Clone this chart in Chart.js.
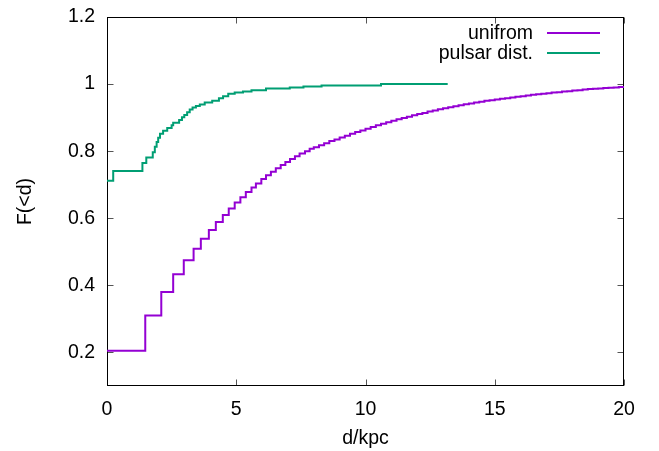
<!DOCTYPE html>
<html>
<head>
<meta charset="utf-8">
<script src="https://cdn.jsdelivr.net/npm/chart.js@4/dist/chart.umd.min.js"></script>
<style>
  html, body { margin: 0; padding: 0; background: #ffffff; }
  #c { display: block; }
</style>
</head>
<body>
<canvas id="c" width="659" height="451"></canvas>
<script>
// ---- data ----
const uniformX = [0, 1.48, 2.10, 2.56, 2.97, 3.35, 3.63, 3.94, 4.21, 4.48, 4.71, 4.94, 5.16, 5.37, 5.59, 5.76, 5.97, 6.15, 6.34, 6.53, 6.72, 6.90, 7.08, 7.27, 7.45, 7.66, 7.84,
  8.0, 8.2, 8.4, 8.6, 8.8, 9.0, 9.2, 9.4, 9.6, 9.8, 10.0, 10.2, 10.4, 10.6, 10.8, 11.0, 11.2, 11.4, 11.6, 11.8,
  12.0, 12.2, 12.4, 12.6, 12.8, 13.0, 13.2, 13.4, 13.6, 13.8, 14.0, 14.2, 14.4, 14.6, 14.8, 15.0, 15.2, 15.4, 15.6, 15.8,
  16.0, 16.2, 16.4, 16.6, 16.8, 17.0, 17.2, 17.4, 17.6, 17.8, 18.0, 18.2, 18.4, 18.6, 18.8, 19.0, 19.2, 19.4, 19.6, 19.8, 20.0];
const uniformY = [0.205, 0.31, 0.38, 0.433, 0.475, 0.509, 0.539, 0.565, 0.589, 0.61, 0.629, 0.647, 0.663, 0.678, 0.692, 0.704, 0.717, 0.728, 0.739, 0.749, 0.759, 0.768, 0.777, 0.785, 0.793, 0.80, 0.807,
  0.812, 0.818, 0.824, 0.830, 0.835, 0.841, 0.846, 0.852, 0.857, 0.862, 0.867, 0.872, 0.877, 0.882, 0.886, 0.891, 0.895, 0.899, 0.903, 0.907,
  0.911, 0.914, 0.918, 0.921, 0.925, 0.928, 0.931, 0.934, 0.937, 0.940, 0.942, 0.945, 0.947, 0.950, 0.952, 0.954, 0.956, 0.958, 0.960, 0.962,
  0.964, 0.966, 0.968, 0.970, 0.971, 0.973, 0.975, 0.976, 0.978, 0.979, 0.981, 0.982, 0.984, 0.985, 0.986, 0.987, 0.988, 0.989, 0.990, 0.991, 0.992];

const pulsarX = [0, 0.24, 1.37, 1.52, 1.77, 1.85, 1.92, 1.98, 2.05, 2.17, 2.33, 2.50, 2.56, 2.79, 2.90, 2.99, 3.10, 3.20, 3.31, 3.44, 3.59, 3.78, 4.07, 4.33, 4.49, 4.69, 4.94, 5.26, 5.59, 6.15, 7.07, 7.6, 8.3, 10.6, 13.18];
const pulsarY = [0.712, 0.741, 0.765, 0.781, 0.797, 0.813, 0.827, 0.840, 0.852, 0.861, 0.869, 0.877, 0.885, 0.893, 0.901, 0.908, 0.916, 0.924, 0.930, 0.935, 0.939, 0.945, 0.950, 0.958, 0.964, 0.971, 0.975, 0.978, 0.982, 0.987, 0.990, 0.993, 0.996, 1.0, 1.0];

const seriesLabels = ['unifrom', 'pulsar dist.'];
const seriesColors = ['#9400d3', '#009e73'];
const xTickValues = [0, 5, 10, 15, 20];
const yTickValues = [0.2, 0.4, 0.6, 0.8, 1.0, 1.2];
const xTitle = 'd/kpc';
const yTitle = 'F(<d)';

const FONT = { family: '"Liberation Sans", Arial, sans-serif', size: 19.5 };

function toPoints(xs, ys) { return xs.map((x, i) => ({ x: x, y: ys[i] })); }

// frame (border + inward mirrored ticks) drawn using the chart's own scales
const framePlugin = {
  id: 'frame',
  beforeDatasetsDraw(chart) {
    const ctx = chart.ctx, a = chart.chartArea;
    const xs = chart.scales.x, ys = chart.scales.y;
    const L = Math.round(a.left) + 0.5, R = Math.round(a.right) - 0.5;
    const T = Math.round(a.top) + 0.5, B = Math.round(a.bottom) - 0.5;
    ctx.save();
    ctx.lineWidth = 1;
    ctx.strokeStyle = '#555555';
    const tl = 6;
    ctx.beginPath();
    xTickValues.forEach(v => {
      const px = Math.round(xs.getPixelForValue(v)) + 0.5;
      ctx.moveTo(px, B); ctx.lineTo(px, B - tl);
      ctx.moveTo(px, T); ctx.lineTo(px, T + tl);
    });
    yTickValues.forEach(v => {
      const py = Math.round(ys.getPixelForValue(v)) + 0.5;
      ctx.moveTo(L, py); ctx.lineTo(L + tl, py);
      ctx.moveTo(R, py); ctx.lineTo(R - tl, py);
    });
    ctx.stroke();
    ctx.strokeStyle = '#000000';
    ctx.strokeRect(L, T, R - L, B - T);
    ctx.restore();
  }
};

// gnuplot-style key: right-aligned text, line sample on the right
const keyPlugin = {
  id: 'gkey',
  afterDatasetsDraw(chart) {
    const ctx = chart.ctx, a = chart.chartArea;
    ctx.save();
    ctx.font = FONT.size + 'px ' + FONT.family;
    ctx.textAlign = 'right';
    ctx.textBaseline = 'middle';
    chart.data.datasets.forEach((ds, i) => {
      const y = a.top + 16 + i * 19.5;
      ctx.fillStyle = '#000000';
      ctx.fillText(ds.label, a.right - 91, y + 1);
      ctx.strokeStyle = ds.borderColor;
      ctx.lineWidth = 2;
      ctx.beginPath();
      ctx.moveTo(a.right - 77, Math.round(y));
      ctx.lineTo(a.right - 24, Math.round(y));
      ctx.stroke();
    });
    ctx.restore();
  }
};

new Chart(document.getElementById('c'), {
  type: 'line',
  data: {
    datasets: [
      { label: seriesLabels[0], data: toPoints(uniformX, uniformY), borderColor: seriesColors[0], borderWidth: 2, pointRadius: 0, stepped: 'before', fill: false, tension: 0 },
      { label: seriesLabels[1], data: toPoints(pulsarX, pulsarY), borderColor: seriesColors[1], borderWidth: 2, pointRadius: 0, stepped: 'before', fill: false, tension: 0 }
    ]
  },
  options: {
    responsive: false,
    animation: false,
    devicePixelRatio: 1,
    layout: { padding: { left: 0, right: 35, top: 17, bottom: 0 } },
    plugins: { legend: { display: false }, tooltip: { enabled: false } },
    scales: {
      x: {
        type: 'linear',
        min: 0, max: 20,
        afterFit(s) { s.height = 65; s.paddingLeft = 0; s.paddingRight = 0; },
        afterBuildTicks(s) { s.ticks = xTickValues.map(v => ({ value: v })); },
        grid: { display: false, drawTicks: false },
        border: { display: false },
        ticks: { color: '#000000', font: FONT, padding: 12, maxRotation: 0, autoSkip: false, callback: v => String(v) },
        title: { display: true, text: xTitle, color: '#000000', font: FONT, padding: { top: 0, bottom: 1 } }
      },
      y: {
        type: 'linear',
        min: 0.1, max: 1.2,
        afterFit(s) { s.width = 107; s.paddingTop = 0; s.paddingBottom = 0; },
        afterBuildTicks(s) { s.ticks = yTickValues.map(v => ({ value: v })); },
        grid: { display: false, drawTicks: false },
        border: { display: false },
        ticks: { color: '#000000', font: FONT, padding: 12, autoSkip: false, callback: v => String(+(+v).toFixed(1)) },
        title: { display: true, text: yTitle, color: '#000000', font: FONT, padding: { top: 14, bottom: 0 } }
      }
    }
  },
  plugins: [framePlugin, keyPlugin]
});
</script>
</body>
</html>
